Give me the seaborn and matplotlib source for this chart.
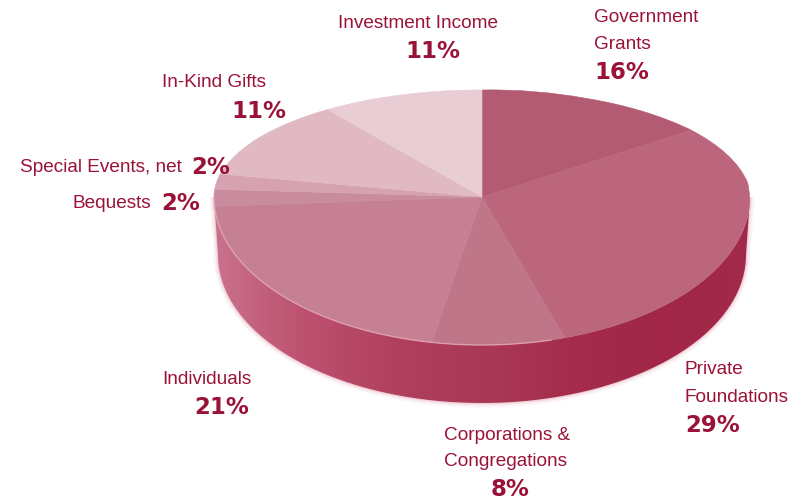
import numpy as np
import matplotlib
matplotlib.use("Agg")
import matplotlib.pyplot as plt
import seaborn as sns
from matplotlib.patches import PathPatch
from matplotlib.path import Path
from matplotlib.colors import LinearSegmentedColormap

categories = ["Government Grants", "Private Foundations", "Corporations & Congregations",
              "Individuals", "Bequests", "Special Events, net", "In-Kind Gifts", "Investment Income"]
shares = [16, 29, 8, 21, 2, 2, 11, 11]
slice_colors = ["#b25b72", "#bb667c", "#bf7689", "#c68094", "#c88c9e", "#d6a2b1", "#e0b9c3", "#e9cdd4"]
side_colors = ["#c9728c", "#bd516f", "#b0405e", "#a93a57", "#a52c4c", "#a12647", "#a22a4a"]

# name lines / percent text, placed by hand like the original layout
name_text = ["Investment Income", "Government", "Grants", "In-Kind Gifts", "Special Events, net",
             "Bequests", "Individuals", "Private", "Foundations", "Corporations &", "Congregations"]
name_xy = [(338, 23), (594, 17), (594, 44), (162, 82), (20, 168), (72, 203), (162, 379),
           (685, 370), (685, 398), (444, 435), (444, 461)]
pct_text = ["11%", "16%", "11%", "2%", "2%", "21%", "29%", "8%"]
pct_xy = [(405, 51), (594, 72), (231, 111), (191, 168), (161, 203), (194, 407), (685, 425), (491, 489)]

CX, CY = 482, 197
RX, RY_UP, RY_DOWN = 268, 107, 148
DEPTH = 58
RED = "#9b1238"

sns.set_theme(style="white")
plt.rcParams["font.family"] = ["Liberation Sans Narrow", "Liberation Sans", "DejaVu Sans"]


def squash(verts):
    # unit pie -> tilted disc, front half is stretched for the perspective
    out = np.array(verts, dtype=float)
    r = np.hypot(out[:, 0], out[:, 1])
    phi = np.arctan2(out[:, 0], out[:, 1])
    # back half looks bunched towards the top in the original
    back = np.abs(phi) < np.pi / 2
    pull = np.where(phi > 0, np.radians(7), np.radians(-4.5))
    phi = np.where(back, phi - pull * np.sin(2 * np.abs(phi)), phi)
    x, y = r * np.sin(phi), r * np.cos(phi)
    return np.column_stack([CX + x * RX, CY - y * np.where(y > 0, RY_UP, RY_DOWN)])


fig = plt.figure(figsize=(8.07, 4.99), dpi=100)
ax = fig.add_axes([0, 0, 1, 1])

wedges, _ = ax.pie(shares, colors=sns.color_palette(slice_colors), startangle=90, counterclock=False)
ax.set_aspect("auto")

# side of the disc
t = np.linspace(0, np.pi, 200)
rim = np.column_stack([CX + RX * np.cos(t), CY + RY_DOWN * np.sin(t)])
low = np.column_stack([CX + (RX - 4) * np.cos(t), CY + RY_DOWN * np.sin(t) + DEPTH])
side = Path(np.vstack([rim, low[::-1], rim[:1]]))

for grow, alpha in [(7, 0.05), (5, 0.07), (3, 0.12), (1.5, 0.2)]:
    ax.add_patch(PathPatch(side, fc="none", ec="#d9839b", lw=grow, alpha=alpha, zorder=1))

cmap = LinearSegmentedColormap.from_list("side", list(reversed(side_colors)))
img = ax.imshow(np.linspace(1, 0, 256)[None, :], extent=(CX - RX, CX + RX, 499, 0), aspect="auto",
                cmap=cmap, zorder=2)
clip = PathPatch(side, transform=ax.transData, fc="none", ec="none")
ax.add_patch(clip)
img.set_clip_path(clip)

ax.set_xlim(0, 807)
ax.set_ylim(499, 0)

for w in wedges:
    p = w.get_path()
    # same colour edge hides the seams between the slices
    ax.add_patch(PathPatch(Path(squash(p.vertices), p.codes), fc=w.get_facecolor(), ec=w.get_facecolor(),
                           lw=0.4, zorder=3))
    w.set_visible(False)

# light edge along the front rim
front = np.linspace(np.radians(75), np.pi, 120)
ax.plot(CX + RX * np.cos(front), CY + RY_DOWN * np.sin(front), color="#e9afbd", lw=1, alpha=0.7, zorder=4)

for s, (x, y) in zip(name_text, name_xy):
    ax.text(x, y, s, color=RED, fontsize=13.7, ha="left", va="center")
for s, (x, y) in zip(pct_text, pct_xy):
    ax.text(x, y, s, color=RED, fontsize=16.5, fontweight="bold", family="DejaVu Sans", ha="left", va="center")

fig.savefig("out.png", dpi=100)
